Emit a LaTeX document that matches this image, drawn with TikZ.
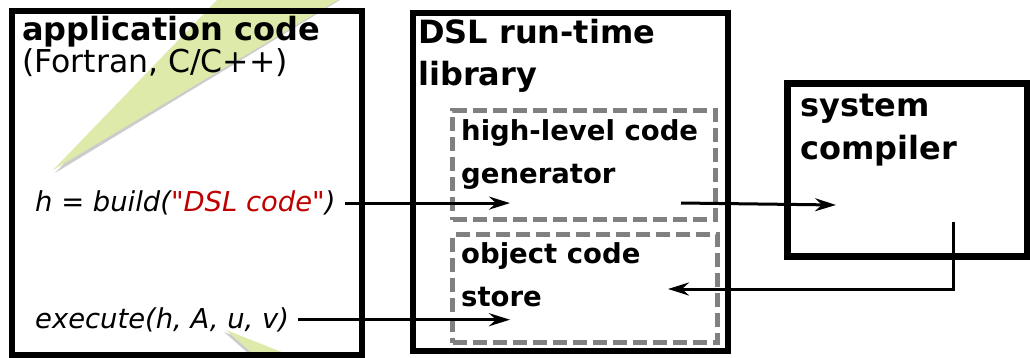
\documentclass[tikz,border=0pt]{standalone}
\usepackage{fontspec}
\setmainfont{DejaVu Sans}[Ligatures=TeXOff, BoldFont={DejaVu Sans Bold}, ItalicFont={DejaVu Sans Oblique}]
\usepackage{tikz}
\usetikzlibrary{arrows.meta, positioning, calc}
\definecolor{boltgreen}{RGB}{221,234,170}
\definecolor{dslred}{RGB}{190,0,0}
\tikzset{
    bigbox/.style={draw, line width=6pt, rectangle, inner sep=0pt},
    partbox/.style={draw=gray, line width=5pt, dash pattern=on 14pt off 6pt, rectangle, inner sep=0pt},
    title/.style={anchor=base west, inner sep=0pt, font=\fontsize{32}{38}\selectfont\bfseries},
    subtitle/.style={anchor=base west, inner sep=0pt, font=\fontsize{27.5}{33}\selectfont\bfseries},
    call/.style={anchor=base west, inner sep=0pt, font=\fontsize{27.4}{33}\selectfont\itshape},
    flow/.style={-{Stealth[length=21pt, width=13pt, inset=7pt]}, line width=3pt}
}

\begin{document}
\begin{tikzpicture}[x=1pt, y=-1pt]
    \useasboundingbox (0,0) rectangle (1030,357);
    % Lightning bolt behind the boxes
    \begin{scope}
        \clip (0,0) rectangle (1030,357);
        \fill[black, opacity=0.2] (219,0) -- (340,0) -- (55,173) -- cycle;
        \fill[boltgreen] (217,0) -- (338,0) -- (53,170) -- cycle;
        \fill[black, opacity=0.2] (224,332) -- (256,360) -- (298,360) -- cycle;
        \fill[boltgreen] (226,330) -- (260,360) -- (302,360) -- cycle;
    \end{scope}
    % Boxes
    \node[bigbox, minimum width=350pt, minimum height=344pt] (app) at (187,182.6) {};
    \node[bigbox, minimum width=315pt, minimum height=338.5pt] (dsl) at (570,181.75) {};
    \node[bigbox, line width=7pt, minimum width=240pt, minimum height=172.5pt] (comp) at (907,169.75) {};
    \node[partbox, minimum width=262.5pt, minimum height=109pt] (gen) at (583.75,165) {};
    \node[partbox, minimum width=264.5pt, minimum height=108pt] (store) at (584.75,288.5) {};
    % Titles
    \node[title] (apptitle) at (22,40) {application code};
    \node[title, font=\fontsize{31.5}{38}\selectfont] (applang) at (22,72) {(Fortran, C/C++)};
    \node[title] (dsltitle) at (418,43) {DSL run-time};
    \node[title] (dsllib) at (418,85) {library};
    \node[subtitle] (gentitle) at (461,140) {high-level code};
    \node[subtitle] (genname) at (461,183.3) {generator};
    \node[subtitle] (storetitle) at (461,263.3) {object code};
    \node[subtitle] (storename) at (461,306.7) {store};
    \node[title] (comptitle) at (800,116) {system};
    \node[title] (compname) at (800,159.3) {compiler};
    % Calls in the application
    \node[call] (build) at (35,211.7) {h = build(\textcolor{dslred}{"DSL code"})};
    \node[call] (exec) at (35,328.3) {execute(h, A, u, v)};
    % Arrows
    \coordinate (genin) at (510,204);
    \coordinate (genout) at (681,203);
    \coordinate (compin) at (836,205);
    \coordinate (compout) at (953,222);
    \coordinate (storein) at (668,289);
    \coordinate (storeexec) at (510,320);
    \draw[flow, shorten <=9pt] (build.east) -- (build.east -| genin);
    \draw[flow] (genout) -- (compin);
    \draw[flow] (compout) |- (storein);
    \draw[flow, shorten <=9pt] (exec.east) -- (exec.east -| storeexec);
\end{tikzpicture}
\end{document}
